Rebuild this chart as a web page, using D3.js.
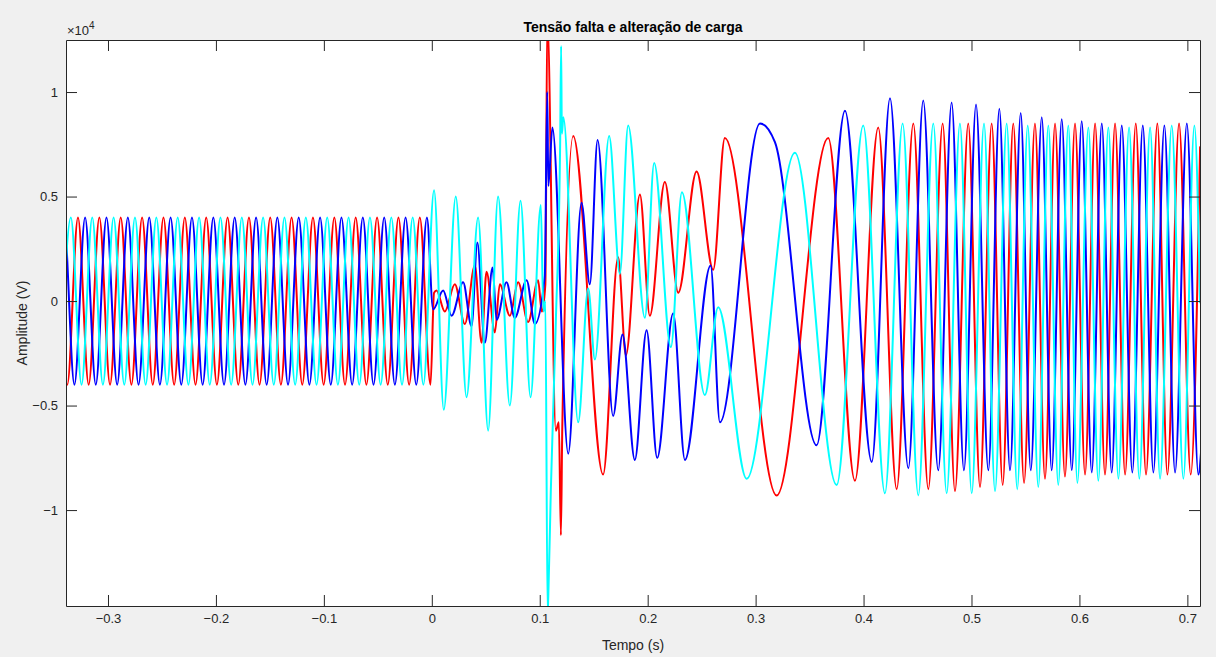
<!DOCTYPE html>
<html>
<head>
<meta charset="utf-8">
<script src="https://cdn.jsdelivr.net/npm/d3@7"></script>
<style>
  html, body { margin: 0; padding: 0; background: #f0f0f0; }
  svg { display: block; font-family: "Liberation Sans", Arial, Helvetica, sans-serif; }
</style>
</head>
<body>
<svg id="chart" width="1216" height="657"></svg>
<script>
// three-phase voltage, fault at t=0 and load change — extrema
// [time (s), voltage (V)]

const redPre = [
  [-0.3476, 4000], [-0.3377, -4000], [-0.3278, 4000], [-0.3179, -4000], [-0.3080, 4000], [-0.2981, -4000],
  [-0.2882, 4000], [-0.2783, -4000], [-0.2684, 4000], [-0.2585, -4000], [-0.2486, 4000], [-0.2387, -4000],
  [-0.2288, 4000], [-0.2189, -4000], [-0.2090, 4000], [-0.1991, -4000], [-0.1892, 4000], [-0.1793, -4000],
  [-0.1694, 4000], [-0.1596, -4000], [-0.1497, 4000], [-0.1398, -4000], [-0.1299, 4000], [-0.1200, -4000],
  [-0.1101, 4000], [-0.1002, -4000], [-0.0903, 4000], [-0.0804, -4000], [-0.0705, 4000], [-0.0606, -4000],
  [-0.0507, 4000], [-0.0408, -4000], [-0.0309, 4000], [-0.0210, -4000], [-0.0111, 4000], [-0.0012, -4000],
];
const redPost = [
  [0.0021, 400], [0.0044, 500], [0.0120, -500], [0.0213, 800], [0.0306, -1100], [0.0399, 1700],
  [0.0461, -2000], [0.0507, 1400], [0.0584, -1500], [0.0630, 800], [0.0723, -700], [0.0800, 900],
  [0.0892, -1000], [0.0985, 1000], [0.1019, -500], [0.1052, 800], [0.1070, 13500], [0.1149, -6200],
  [0.1177, -5800], [0.1196, -11200], [0.1209, -6000], [0.1310, 7900], [0.1587, -8300], [0.1726, 2100],
  [0.1798, -2600], [0.1928, 5100], [0.2020, -700], [0.2159, 5700], [0.2283, 400], [0.2453, 6200],
  [0.2607, 1500], [0.2715, 7800], [0.3195, -9300], [0.3673, 7800], [0.3920, -8600], [0.4136, 8300],
  [0.4307, -9000], [0.4461, 8500], [0.4600, -9000], [0.4733, 8500], [0.4847, -9100], [0.4970, 8500],
  [0.5079, -8900], [0.5187, 8500], [0.5289, -8800], [0.5387, 8500], [0.5487, -8700], [0.5588, 8500],
  [0.5681, -8500], [0.5774, 8500], [0.5866, -8400], [0.5959, 8500], [0.6052, -8300], [0.6145, 8500],
  [0.6237, -8300], [0.6330, 8500], [0.6423, -8300], [0.6522, 8500], [0.6617, -8300], [0.6722, 8500],
  [0.6815, -8300], [0.6923, 8500], [0.7031, -8300], [0.7118, 7400],
];

const bluePre = [
  [-0.3509, -4000], [-0.3410, 4000], [-0.3311, -4000], [-0.3212, 4000], [-0.3113, -4000], [-0.3014, 4000],
  [-0.2915, -4000], [-0.2816, 4000], [-0.2717, -4000], [-0.2618, 4000], [-0.2519, -4000], [-0.2420, 4000],
  [-0.2321, -4000], [-0.2222, 4000], [-0.2123, -4000], [-0.2024, 4000], [-0.1925, -4000], [-0.1826, 4000],
  [-0.1727, -4000], [-0.1628, 4000], [-0.1530, -4000], [-0.1431, 4000], [-0.1332, -4000], [-0.1233, 4000],
  [-0.1134, -4000], [-0.1035, 4000], [-0.0936, -4000], [-0.0837, 4000], [-0.0738, -4000], [-0.0639, 4000],
  [-0.0540, -4000], [-0.0441, 4000], [-0.0342, -4000], [-0.0243, 4000], [-0.0144, -4000], [-0.0045, 4000],
];
const bluePost = [
  [0.0012, -400], [0.0105, 500], [0.0183, -700], [0.0290, 900], [0.0368, -1200], [0.0422, 2800],
  [0.0491, -2000], [0.0563, 1600], [0.0600, -900], [0.0692, 900], [0.0769, -800], [0.0878, 1000],
  [0.0955, -1100], [0.1047, 1200], [0.1069, 10000], [0.1080, 5500], [0.1117, 8300], [0.1264, -7300],
  [0.1387, 4700], [0.1464, 800], [0.1536, 7700], [0.1680, -5500], [0.1767, -1600], [0.1881, -7600],
  [0.1990, -1400], [0.2088, -7500], [0.2236, -600], [0.2345, -7600], [0.2583, 1700], [0.2669, -5800],
  [0.3040, 8500], [0.3179, 7600], [0.3565, -6900], [0.3828, 9100], [0.4076, -7700], [0.4245, 9700],
  [0.4415, -8000], [0.4553, 9600], [0.4692, -8100], [0.4816, 9500], [0.4930, -8100], [0.5042, 9400],
  [0.5156, -8100], [0.5258, 9200], [0.5357, -8100], [0.5456, 9000], [0.5549, -8100], [0.5651, 8800],
  [0.5743, -8100], [0.5836, 8700], [0.5929, -8100], [0.6021, 8600], [0.6114, -8200], [0.6207, 8500],
  [0.6299, -8200], [0.6392, 8400], [0.6490, -8200], [0.6587, 8400], [0.6685, -8200], [0.6787, 8400],
  [0.6886, -8200], [0.6995, 8500], [0.7102, -8300], [0.7130, -7000],
];

const cyanPre = [
  [-0.3443, -4000], [-0.3344, 4000], [-0.3245, -4000], [-0.3146, 4000], [-0.3047, -4000], [-0.2948, 4000],
  [-0.2849, -4000], [-0.2750, 4000], [-0.2651, -4000], [-0.2552, 4000], [-0.2453, -4000], [-0.2354, 4000],
  [-0.2255, -4000], [-0.2156, 4000], [-0.2057, -4000], [-0.1958, 4000], [-0.1859, -4000], [-0.1760, 4000],
  [-0.1661, -4000], [-0.1563, 4000], [-0.1464, -4000], [-0.1365, 4000], [-0.1266, -4000], [-0.1167, 4000],
  [-0.1068, -4000], [-0.0969, 4000], [-0.0870, -4000], [-0.0771, 4000], [-0.0672, -4000], [-0.0573, 4000],
  [-0.0474, -4000], [-0.0375, 4000], [-0.0276, -4000], [-0.0177, 4000], [-0.0078, -4000],
];
const cyanPost = [
  [0.0021, 5300], [0.0111, -5200], [0.0222, 5000], [0.0322, -4600], [0.0429, 4000], [0.0522, -6200],
  [0.0614, 5000], [0.0723, -5000], [0.0822, 4800], [0.0915, -4600], [0.1010, 4600], [0.1034, -500],
  [0.1052, 0], [0.1073, -15000], [0.1080, -14000], [0.1103, -9000], [0.1149, -1000], [0.1189, 7500],
  [0.1198, 12200], [0.1205, 8000], [0.1219, 8800], [0.1356, -5800], [0.1449, 600], [0.1511, -2800],
  [0.1643, 7900], [0.1742, 1300], [0.1819, 8400], [0.1974, -800], [0.2060, 6600], [0.2215, -2200],
  [0.2317, 5200], [0.2530, -4500], [0.2653, -300], [0.2917, -8500], [0.3364, 7100], [0.3751, -8800],
  [0.3997, 8400], [0.4198, -9200], [0.4362, 8500], [0.4507, -9300], [0.4646, 8500], [0.4770, -9200],
  [0.4893, 8500], [0.5002, -9200], [0.5116, 8500], [0.5218, -9100], [0.5326, 8500], [0.5424, -9000],
  [0.5521, 8400], [0.5619, -8900], [0.5712, 8400], [0.5804, -8800], [0.5897, 8400], [0.5981, -8700],
  [0.6083, 8300], [0.6175, -8600], [0.6268, 8300], [0.6361, -8500], [0.6460, 8300], [0.6555, -8500],
  [0.6655, 8300], [0.6747, -8500], [0.6855, 8400], [0.6963, -8500], [0.7065, 8400], [0.7118, -100],
];

const xTicks = [-0.3, -0.2, -0.1, 0, 0.1, 0.2, 0.3, 0.4, 0.5, 0.6, 0.7];
const yTicks = [-10000, -5000, 0, 5000, 10000];
const xDomain = [-0.3389, 0.7117];
const yDomain = [-14590, 12490];

const SERIES = [
  { name: "A", color: "#ff0000", data: redPre.concat(redPost) },
  { name: "B", color: "#0000ff", data: bluePre.concat(bluePost) },
  { name: "C", color: "#00ffff", data: cyanPre.concat(cyanPost) },
];

const M = { left: 66, right: 16, top: 40, bottom: 51 };
const W = 1216, H = 657;
const AX = "#262626";

const svg = d3.select("#chart");
const iw = W - M.left - M.right, ih = H - M.top - M.bottom;

const x = d3.scaleLinear().domain(xDomain).range([0, iw]);
const y = d3.scaleLinear().domain(yDomain).range([ih, 0]);

const g = svg.append("g").attr("transform", `translate(${M.left},${M.top})`);
g.append("rect").attr("width", iw).attr("height", ih).attr("fill", "#fff");

svg.append("defs").append("clipPath").attr("id", "plotclip")
  .append("rect").attr("width", iw).attr("height", ih);

const line = d3.line()
  .x(d => x(d[0])).y(d => y(d[1]))
  .curve(d3.curveMonotoneX);

const plot = g.append("g").attr("clip-path", "url(#plotclip)");
plot.selectAll("path.trace")
  .data(SERIES).enter().append("path")
  .attr("class", "trace")
  .attr("fill", "none")
  .attr("stroke", d => d.color)
  .attr("stroke-width", 2)
  .attr("stroke-linejoin", "round")
  .attr("d", d => line(d.data));

// axes: MATLAB style, ticks pointing inward on all four sides
const TL = 11;
const fmtX = d => d3.format("")(+d.toFixed(1));
const fmtY = d => d3.format("")(+(d / 10000).toFixed(1));

const xb = g.append("g").attr("transform", `translate(0,${ih})`)
  .call(d3.axisBottom(x).tickValues(xTicks).tickFormat(fmtX).tickSizeInner(-TL).tickSizeOuter(0).tickPadding(8));
const xt = g.append("g")
  .call(d3.axisTop(x).tickValues(xTicks).tickFormat("").tickSizeInner(-TL).tickSizeOuter(0));
const yl = g.append("g")
  .call(d3.axisLeft(y).tickValues(yTicks).tickFormat(fmtY).tickSizeInner(-TL).tickSizeOuter(0).tickPadding(8));
const yr = g.append("g").attr("transform", `translate(${iw},0)`)
  .call(d3.axisRight(y).tickValues(yTicks).tickFormat("").tickSizeInner(-TL).tickSizeOuter(0));

[xb, xt, yl, yr].forEach(a => {
  a.select(".domain").attr("stroke", AX).attr("stroke-width", 1);
  a.selectAll(".tick line").attr("stroke", AX).attr("stroke-width", 1);
  a.selectAll(".tick text").attr("fill", AX).style("font-size", "13px");
});

// exponent label
const ex = svg.append("text").attr("x", M.left + 1).attr("y", M.top - 5)
  .attr("fill", AX).style("font-size", "13px");
ex.append("tspan").text("\u00d710");
ex.append("tspan").attr("dy", -6).style("font-size", "10px").text("4");

svg.append("text")
  .attr("x", M.left + iw / 2).attr("y", 32)
  .attr("text-anchor", "middle").attr("fill", "#000")
  .style("font-size", "14px").style("font-weight", "bold")
  .text("Tensão falta e alteração de carga");

svg.append("text")
  .attr("x", M.left + iw / 2).attr("y", 650)
  .attr("text-anchor", "middle").attr("fill", AX)
  .style("font-size", "14px")
  .text("Tempo (s)");

svg.append("text")
  .attr("transform", `translate(27,${M.top + ih / 2}) rotate(-90)`)
  .attr("text-anchor", "middle").attr("fill", AX)
  .style("font-size", "14px")
  .text("Amplitude (V)");
</script>
</body>
</html>
